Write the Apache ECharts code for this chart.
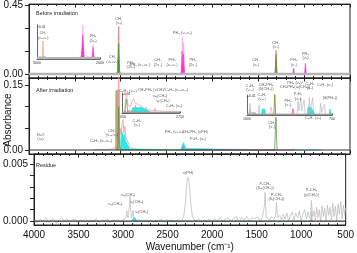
<!DOCTYPE html>
<html><head><meta charset="utf-8">
<script src="https://cdn.jsdelivr.net/npm/echarts@6.0.0/dist/echarts.min.js"></script>
<style>html,body{margin:0;padding:0;background:#fff}#c{width:357px;height:253px}</style>
</head><body><div id="c"></div>
<script>
// ---------------- DATA ----------------
const xMin = 500, xMax = 4000;
// panel y ticks / labels
const p1Ticks = [0, 0.15, 0.30, 0.45], p1Labels = [0, 0.45];
const p2Ticks = [0, 0.05, 0.10, 0.15], p2Labels = [0, 0.15];
const p3Ticks = [0, 0.001, 0.002, 0.003, 0.004, 0.005], p3Labels = [0, 0.005];

// Panel 1 : before irradiation
const p1Base = [[4000,0],[500,0]];
const p1CH4Line = [[3200,0],[3100,0.002],[3060,0.004],[3035,0.012],[3022,0.31],[3013,0.02],[2995,0.006],[2960,0],[1340,0],[1316,0.012],[1306,0.155],[1297,0.01],[1280,0]];
const p1CH4Fill = [[3034,0],[3022,0.2],[3012,0],[1316,0],[1306,0.13],[1298,0]];
const p1PH3Line = [[2350,0],[2334,0.02],[2327,0.24],[2320,0.06],[2314,0.2],[2306,0.01],[2290,0]];
const p1PH3Fill = [[2342,0],[2330,0.15],[2322,0.03],[2316,0.13],[2304,0],[1125,0],[1115,0.04],[1106,0],[996,0],[986,0.07],[977,0]];
const p1Small = [[3090,0],[3084,0.006],[3078,0],[2905,0],[2899,0.005],[2893,0],[2610,0],[2600,0.004],[2590,0],[1540,0],[1533,0.005],[1526,0]];
const p1Text = [
  [3019,0.345,'CH₄\n(ν₃)'],[3090,0.095,'CH₄\n(ν₂+ν₄)'],[2890,0.058,'PH₃\n(2ν₂)'],[2790,0.06,'PH₃ (ν₂+ν₄)'],
  [2594,0.075,'CH₄\n(2ν₄)'],[2440,0.075,'PH₃\n(ν₂,ν₄)'],[2328,0.268,'PH₃ (ν₁,ν₃)'],[2212,0.075,'PH₃\n(2ν₄)'],
  [1525,0.075,'CH₄\n(ν₂)'],[1306,0.19,'CH₄\n(ν₄)'],[1111,0.075,'PH₃\n(ν₄)'],[985,0.12,'PH₃\n(ν₂)']
];
// Inset in panel 1
const i1Min = 2000, i1Max = 3000;
const i1Base = [[3000,0],[2000,0]];
const i1Orange = [[2960,0],[2915,0.0003],[2905,0.0054],[2895,0.0003],[2850,0]];
const i1PinkLine = [[2320,0],[2285,0.0012],[2272,0.0108],[2260,0.001],[2130,0],[2118,0.0012],[2110,0.0042],[2100,0.001],[2060,0]];
const i1PinkFill = [[2300,0],[2272,0.0075],[2250,0],[2125,0],[2110,0.0034],[2095,0]];
const i1Text = [[2905,0.0072,'CH₄\n(ν₂+ν₄)'],[2272,0.0125,'PH₃\n(ν₁+ν₂)'],[2110,0.0062,'PH₃\n(2ν₂)']];

// Panel 2 : after irradiation
const p2Base = [[4000,0],[500,0]];
const p2Tan = [[3058,0],[3055,0.136],[3040,0.14],[3022,0.14],[3014,0.135],[3010,0]];
const p2Red = [[3300,0],[3150,0.001],[3080,0.003],[3045,0.01],[3030,0.04],[3022,0.18],[3016,0.03],[3005,0.05],[2995,0.035],[2985,0.06],[2975,0.07],[2965,0.04],[2955,0.055],[2945,0.03],[2925,0.02],[2900,0.008],[2860,0.003],[2800,0]];
const p2Green = [[3045,0],[3030,0.01],[3022,0.1],[3015,0.01],[3000,0],[1322,0],[1307,0.076],[1296,0]];
const p2Cyan = [[3005,0],[2998,0.03],[2990,0.045],[2978,0.047],[2965,0.03],[2955,0.038],[2945,0.02],[2930,0.015],[2915,0.008],[2900,0.003],[2885,0],[2345,0],[2330,0.01],[2316,0.018],[2302,0.011],[2290,0.004],[2278,0],[1450,0],[1440,0.003],[1430,0],[960,0],[950,0.003],[940,0],[880,0],[870,0.003],[860,0]];
const p2Magenta = [[2338,0],[2326,0.009],[2314,0],[1520,0],[1510,0.003],[1500,0],[1120,0],[1112,0.003],[1104,0]];
const p2GreyPeaks = [[2400,0],[2380,0.004],[2360,0],[1060,0],[1050,0.003],[1040,0],[960,0],[950,0.004],[940,0],[820,0],[810,0.003],[800,0]];
const p2Text = [
  [3875,0.03,'H₂O\n(ν₃)'],[3215,0.021,'C₂H₆ (ν₅,ν₁₁)'],[3095,0.039,'CH₄\n(ν₂+ν₄)'],
  [2822,0.062,'C₂H₆\n(ν₇)'],[2415,0.041,'PH₃ (ν₁,ν₃)'],[2190,0.041,'CH₃PH₂ (νPH)'],[2157,0.025,'P₂H₄ (ν₁)'],
  [1351,0.058,'CH₄\n(ν₄)'],
  [2921,0.136,'C₂H₆ (ν₁₀)'],[2539,0.139,'CH₃PH₂ (νCH)/C₂H₆ (ν₈+ν₁₁)'],[2572,0.125,'νₐₛ(CH₃)'],[2539,0.113,'νₛ(CH₂)'],[2419,0.102,'C₂H₆ (ν₈)'],
  [1590,0.143,'C₂H₆\n(ν₁₂)'],[1416,0.145,'CH₃PH₂\n(δ(CH₃))'],[1100,0.150,'PH₃ (ν₂)/\nCH₃PH₂(ω(CH₃))'],[936,0.148,'C₂H₆\n(ν₆)'],[773,0.150,'C₂H₄ (ν₇)'],
  [1460,0.122,'C₂H₄\n(ν₁₂)'],[1176,0.108,'PH₃\n(ν₄)'],[1067,0.124,'P₂H₄\n(ν₆)'],[718,0.12,'(δ(PH₂))'],[903,0.074,'C₂H₄ (ν₇)']
];
// Inset A (panel 2, CH stretch region)
const iaMin = 2750, iaMax = 3050;
const iaBase = [[3050,0],[2750,0]];
const iaRed = [[3050,0.0005],[3035,0.002],[3027,0.012],[3020,0.004],[3008,0.003],[2998,0.006],[2990,0.0075],[2982,0.005],[2972,0.006],[2962,0.004],[2950,0.0035],[2935,0.002],[2900,0.0012],[2850,0.0008],[2800,0.0005],[2750,0.0004]];
const iaGreen = [[3035,0],[3027,0.007],[3020,0]];
const iaCyan = [[3005,0],[2995,0.0025],[2980,0.003],[2965,0.0025],[2950,0.003],[2935,0.002],[2915,0.001],[2900,0]];
const iaGrey = [[2985,0],[2980,0.004],[2975,0],[2930,0],[2925,0.003],[2920,0],[2885,0],[2880,0.0025],[2875,0]];
// Inset B (panel 2, fingerprint region)
const ibMin = 700, ibMax = 1600;
const ibBase = [[1600,0],[700,0]];
const ibGrey = [[1600,0],[1575,0.001],[1568,0.006],[1560,0.001],[1480,0],[1472,0.005],[1465,0],[1070,0],[1060,0.007],[1050,0.002],[1030,0.009],[1020,0.002],[995,0.008],[985,0],[950,0],[940,0.009],[930,0.002],[905,0.009],[895,0],[830,0],[820,0.006],[810,0.001],[780,0.0055],[770,0],[730,0],[720,0.003],[710,0]];
const ibPink = [[1580,0],[1568,0.003],[1556,0],[1360,0],[1345,0.004],[1330,0],[1120,0],[1114,0.003],[1108,0]];
const ibCyan = [[1450,0],[1440,0.003],[1425,0.004],[1410,0.003],[1400,0],[965,0],[955,0.004],[940,0.0035],[925,0.004],[900,0.002],[880,0],[730,0],[718,0.003],[705,0]];
const ibOlive = [[1315,0],[1306,0.012],[1297,0]];
const ibMagenta = [[1125,0],[1114,0.003],[1103,0]];

// Panel 3 : residue
const p3Base = [[4000,0],[500,0]];
const p3Grey = [
[4000,0.0001],[3960,-0.0001],[3930,0.0002],[3900,0.0000],[3870,0.0003],[3840,-0.0001],[3810,0.0001],[3780,0.0002],[3750,-0.0002],[3720,0.0001],[3690,0.0003],[3660,0.0000],[3630,0.0002],[3600,-0.0001],[3570,0.0001],[3540,0.0002],[3510,-0.0001],[3480,0.0001],[3450,0.0000],[3420,0.0002],[3390,-0.0001],[3360,0.0001],[3330,0.0000],[3300,0.0002],[3270,-0.0001],[3240,0.0001],[3210,0.0000],[3180,0.0002],[3150,-0.0001],[3120,0.0001],[3090,0.0000],[3060,0.0001],[3030,-0.0001],[3000,0.0001],[2980,0.0000],
[2968,0.0003],[2958,0.0009],[2953,0.0010],[2946,0.0003],[2935,0.0004],[2926,0.0014],[2921,0.0022],[2915,0.0010],[2905,0.0003],[2895,0.0006],[2888,0.00095],[2880,0.0003],[2872,0.0004],[2866,0.00042],[2858,0.0001],[2840,0.0000],[2810,0.0001],[2780,-0.0001],[2750,0.0001],[2720,0.0000],[2690,0.0001],[2660,-0.0001],[2630,0.0001],[2600,0.0000],[2570,0.0002],[2540,-0.0001],[2510,0.0001],[2480,0.0000],[2450,0.0001],[2420,-0.0001],[2390,0.0001],[2360,0.0000],
[2335,0.0001],[2315,0.0006],[2300,0.0016],[2290,0.0027],[2280,0.0035],[2270,0.0038],[2260,0.0035],[2250,0.0027],[2240,0.0016],[2225,0.0006],[2205,0.0001],[2180,0.0000],[2150,0.0002],[2120,-0.0001],[2090,0.0001],[2060,0.0000],[2030,0.0002],[2000,-0.0001],[1970,0.0002],[1940,0.0000],[1910,0.0003],[1880,-0.0001],[1850,0.0002],[1820,0.0003],[1790,0.0000],[1760,0.0002],[1730,0.0004],[1700,-0.0001],[1670,0.0003],[1640,0.0001],[1610,0.0004],[1580,0.0000],[1550,0.0003],[1520,0.0002],[1490,0.0004],[1460,0.0000],[1435,0.0003],
[1420,0.0003],[1411,0.0014],[1405,0.0025],[1399,0.0014],[1390,0.0003],[1370,0.0004],[1350,0.0001],[1330,0.0004],[1305,0.0002],[1290,0.0004],[1282,0.0010],[1277,0.0016],[1271,0.0010],[1262,0.0003],[1240,0.0005],[1220,0.0001],[1200,0.0006],[1180,0.0002],[1160,0.0007],[1140,0.0000],[1120,0.0005],[1100,0.0008],[1080,0.0001],[1060,0.0007],[1040,0.0003],[1020,0.0009],[1000,0.0000],[980,0.0006],[960,0.0010],[940,0.0002],[920,0.0008],[905,0.0003],
[895,0.0006],[888,0.0013],[884,0.0018],[879,0.0011],[870,0.0004],[855,0.0009],[840,0.0001],[825,0.0012],[810,0.0003],[795,0.0010],[780,-0.0001],[765,0.0013],[750,0.0004],[735,0.0011],[720,0.0000],[705,0.0014],[690,0.0005],[675,0.0012],[660,0.0001],[645,0.0016],[630,0.0004],[615,0.0013],[600,0.0000],[585,0.0015],[570,0.0006],[555,0.0017],[540,0.0002],[525,0.0014],[510,0.0005],[500,0.0012]];
const p3Cyan = [[2895,0],[2885,0.0003],[2872,0.0002],[2862,0.0003],[2852,0],[890,0],[884,0.0005],[878,0]];
const p3Pink = [[892,0],[884,0.0009],[876,0]];
const p3Text = [
  [3090,0.0015,'νₐₛ(CH₃)'],[2945,0.0023,'νₐₛ(CH₂)'],[2845,0.0017,'νₛ(CH₃)'],[2790,0.0008,'νₛ(CH₂)'],
  [2270,0.0042,'ν(PH)'],[1405,0.0031,'P-CH₃\n(δₐₛ(CH₃))'],[1277,0.0021,'P-CH₃\n(δₛ(CH₃))'],[884,0.0025,'P-CH₃\n(ρ(CH₃))']
];

// ---------------- CHART ----------------
const FONT = 'Liberation Sans, Arial, sans-serif';
const FS = 10;
const chart = echarts.init(document.getElementById('c'), null, {renderer:'canvas'});
const grids = [
  {left:29, right:7, top:3, height:75},
  {left:29, right:7, top:78, height:76},
  {left:29, right:7, top:154, height:72},
  {left:37, top:25, width:63, height:34},
  {left:122, top:93, width:58, height:20},
  {left:247, top:95, width:85, height:20}
].map(g => Object.assign({show:true, borderColor:'#222', borderWidth:1, backgroundColor:'transparent'}, g));
grids[3].borderWidth = 0; grids[4].borderWidth = 0; grids[5].borderWidth = 0;

function mainX(grid, pos, showLabel) {
  return {type:'value', gridIndex:grid, position:pos, inverse:true, min:xMin, max:xMax, interval:500,
    axisLine:{show:true, onZero:false, lineStyle:{color:'#222', width:1}},
    axisTick:{show:true, inside:true, length:3.5, lineStyle:{color:'#222'}},
    minorTick:{show:true, splitNumber:5, length:2, lineStyle:{color:'#222'}},
    axisLabel:{show:showLabel, fontSize:FS, color:'#111', margin:5, fontFamily:FONT, formatter:v => String(v)},
    splitLine:{show:false}, minorSplitLine:{show:false},
    name: showLabel ? 'Wavenumber (cm⁻¹)' : '', nameLocation:'middle', nameGap:17,
    nameTextStyle:{fontSize:FS, color:'#111', fontFamily:FONT}};
}
function insetX(grid, min, max) {
  return {type:'value', gridIndex:grid, position:'bottom', inverse:true, min:min, max:max,
    axisLine:{show:true, onZero:false, lineStyle:{color:'#444', width:0.8}},
    axisTick:{show:true, inside:true, length:1.5, customValues:[min,max]},
    axisLabel:{show:true, fontSize:3.5, color:'#333', margin:2, customValues:[min,max], fontFamily:FONT, formatter:v => String(v)},
    splitLine:{show:false}};
}
function mainY(grid, min, max, ticks, labels, dec) {
  return {type:'value', gridIndex:grid, min:min, max:max,
    axisLine:{show:true, onZero:false, lineStyle:{color:'#222'}},
    axisTick:{show:true, inside:false, length:4, customValues:ticks, lineStyle:{color:'#222'}},
    axisLabel:{show:true, customValues:labels, formatter:v => v.toFixed(dec), fontSize:FS, color:'#111', margin:6, fontFamily:FONT},
    splitLine:{show:false}};
}
function insetY(grid, min, max, top, dec) {
  return {type:'value', gridIndex:grid, min:min, max:max,
    axisLine:{show:true, onZero:false, lineStyle:{color:'#444', width:0.8}},
    axisTick:{show:true, inside:true, length:1.5, customValues:[0, top]},
    axisLabel:{show:true, inside:true, customValues:[0, top], formatter:v => v.toFixed(dec), fontSize:3.5, color:'#333', margin:2, fontFamily:FONT},
    splitLine:{show:false}};
}
function ln(xi, yi, data, color, width, fill, z) {
  return {type:'line', xAxisIndex:xi, yAxisIndex:yi, data:data, symbol:'none', silent:true, animation:false,
    lineStyle:{color:color, width:width}, areaStyle: fill ? {color:fill, opacity:1} : undefined, z:z || 2};
}
function txt(xi, yi, arr, fs) {
  return {type:'scatter', xAxisIndex:xi, yAxisIndex:yi, symbolSize:0.1, silent:true, animation:false,
    itemStyle:{color:'rgba(0,0,0,0)'},
    data: arr.map(a => ({value:[a[0], a[1]], label:{formatter:a[2]}})),
    label:{show:true, position:'inside', fontSize:fs || 4, lineHeight:4.4, color:'#333', fontFamily:FONT}, z:20};
}

const option = {
  animation:false,
  backgroundColor:'#fff',
  grid: grids,
  xAxis: [mainX(0,'bottom',false), mainX(1,'bottom',false), mainX(2,'bottom',true),
          mainX(0,'top',false), mainX(1,'top',false), mainX(2,'top',false),
          insetX(3, i1Min, i1Max), insetX(4, iaMin, iaMax), insetX(5, ibMin, ibMax)],
  yAxis: [mainY(0,-0.0257,0.456,p1Ticks,p1Labels,2), mainY(1,-0.0092,0.166,p2Ticks,p2Labels,2), mainY(2,-0.00034,0.00586,p3Ticks,p3Labels,3),
          insetY(3,-0.0003,0.0105,0.01,2), insetY(4,-0.0003,0.0105,0.01,2), insetY(5,-0.0003,0.0105,0.01,2)],
  title: [
    {text:'Before irradiation', left:31, top:5, textStyle:{fontSize:5.5, fontWeight:'normal', color:'#222', fontFamily:FONT}},
    {text:'After irradiation', left:31, top:82, textStyle:{fontSize:5.5, fontWeight:'normal', color:'#222', fontFamily:FONT}},
    {text:'Residue', left:31, top:157, textStyle:{fontSize:5.5, fontWeight:'normal', color:'#222', fontFamily:FONT}}
  ],
  graphic: [{type:'text', x:8, y:120, rotation:Math.PI/2,
    style:{text:'Absorbance', fontSize:FS, fontFamily:FONT, fill:'#111', align:'center', verticalAlign:'middle'}}],
  series: [
    // panel 1
    ln(0,0,p1Small,'#999',0.6),
    ln(0,0,p1CH4Line,'#ee7a7a',0.8),
    ln(0,0,p1CH4Fill,'#4f8f2f',0.6,'#4f8f2f',3),
    ln(0,0,p1PH3Line,'#ffa8e0',0.8),
    ln(0,0,p1PH3Fill,'#ff2fd0',0.6,'#ff2fd0',3),
    ln(0,0,p1Base,'#b5b5b5',2.5,null,5),
    txt(0,0,p1Text),
    // inset 1
    ln(6,3,i1Orange,'#f0a070',0.7),
    ln(6,3,i1PinkLine,'#ffa8e0',0.7),
    ln(6,3,i1PinkFill,'#ff2fd0',0.5,'#ff2fd0',3),
    ln(6,3,i1Base,'#b5b5b5',2,null,5),
    txt(6,3,i1Text,3.5),
    // panel 2
    ln(1,1,p2Tan,'#b9a578',0.5,'#b9a578',2),
    ln(1,1,p2Red,'#f29a9a',0.8,null,3),
    ln(1,1,p2Green,'#4f8f2f',0.7,null,4),
    ln(1,1,p2Cyan,'#2ee6e6',0.5,'#2ee6e6',3),
    ln(1,1,p2Magenta,'#ff2fd0',0.6,null,4),
    ln(1,1,p2GreyPeaks,'#aaa',0.6,null,2),
    ln(1,1,p2Base,'#333',1.2,null,6),
    txt(1,1,p2Text),
    // inset A
    ln(7,4,iaRed,'#f29a9a',0.7),
    ln(7,4,iaGreen,'#4f8f2f',0.6),
    ln(7,4,iaCyan,'#2ee6e6',0.5,'#2ee6e6'),
    ln(7,4,iaGrey,'#aaa',0.5),
    ln(7,4,iaBase,'#999',1.2,null,5),
    // inset B
    ln(8,5,ibGrey,'#b0b0b0',0.6),
    ln(8,5,ibPink,'#f29a9a',0.6),
    ln(8,5,ibCyan,'#2ee6e6',0.5,'#2ee6e6'),
    ln(8,5,ibOlive,'#6b8f2f',0.8),
    ln(8,5,ibMagenta,'#ff2fd0',0.6),
    ln(8,5,ibBase,'#999',1.2,null,5),
    // panel 3
    ln(2,2,p3Grey,'#b8b8b8',0.7,null,2),
    ln(2,2,p3Cyan,'#2ee6e6',0.5,'#2ee6e6',3),
    ln(2,2,p3Pink,'#f29a9a',0.6,null,3),
    ln(2,2,p3Base,'#333',1.1,null,6),
    txt(2,2,p3Text)
  ]
};
chart.setOption(option);
</script></body></html>
